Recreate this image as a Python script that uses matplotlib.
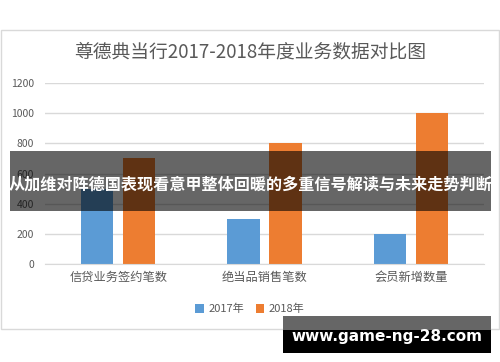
import matplotlib

matplotlib.use("Agg")
import matplotlib.pyplot as plt
import numpy as np
from matplotlib.patches import Rectangle

plt.rcParams["font.family"] = ["Noto Sans CJK SC", "DejaVu Sans"]

W, H = 500, 362

TITLE = "尊德典当行2017-2018年度业务数据对比图"
CATEGORIES = ["信贷业务签约笔数", "绝当品销售笔数", "会员新增数量"]
SERIES = ["2017年", "2018年"]
VALUES_2017 = [500, 300, 200]
VALUES_2018 = [700, 800, 1000]
YTICKS = [0, 200, 400, 600, 800, 1000, 1200]
BANNER = "从加维对阵德国表现看意甲整体回暖的多重信号解读与未来走势判断"
WATERMARK = "www.game-ng-28.com"

BLUE, ORANGE = "#5b9bd5", "#ed7d31"
GRID = "#d9d9d9"
TXT = "#595959"


def box(x0, y0, x1, y1):
    """pixel box (top-left origin) -> figure fraction rect args"""
    return (x0 / W, 1 - y1 / H), (x1 - x0) / W, (y1 - y0) / H


fig = plt.figure(figsize=(W / 100, H / 100), dpi=100)

# chart frame
xy, w, h = box(1, 30, 499, 329)
fig.add_artist(Rectangle(xy, w, h, transform=fig.transFigure, fill=False,
                         ec=GRID, lw=1, zorder=0))
fig.text(0.5, 1 - 52 / H, TITLE, ha="center", va="center", fontsize=13.5, color=TXT)

ax = fig.add_axes([45 / W, 1 - 264 / H, 439 / W, 181 / H])
x = np.arange(len(CATEGORIES))
bw, off = 0.22, 0.143
ax.bar(x - off, VALUES_2017, bw, color=BLUE, label=SERIES[0], zorder=2)
ax.bar(x + off, VALUES_2018, bw, color=ORANGE, label=SERIES[1], zorder=2)
ax.set_xlim(-0.5, 2.5)
ax.set_ylim(0, 1200)
ax.set_yticks(YTICKS)
ax.set_xticks(x, CATEGORIES)
ax.grid(axis="y", color=GRID, lw=1, zorder=0)
for s in ["top", "right", "left"]:
    ax.spines[s].set_visible(False)
ax.spines["bottom"].set_color(GRID)
ax.tick_params(axis="y", length=0, labelsize=7.5, labelcolor=TXT, pad=8)
ax.tick_params(axis="x", length=0, labelsize=8.8, labelcolor=TXT, pad=5)

ax.legend(loc="center", bbox_to_anchor=(0.5, 1 - 309 / H), bbox_transform=fig.transFigure,
          ncol=2, frameon=False, fontsize=8, labelcolor=TXT, handlelength=0.8,
          handleheight=0.8, handletextpad=0.4, columnspacing=1.0)

# overlay banner
xy, w, h = box(10, 151, 491, 211)
fig.add_artist(Rectangle(xy, w, h, transform=fig.transFigure, fc="black",
                         alpha=0.6, lw=0, zorder=5))
fig.text(250.5 / W, 1 - 185 / H, BANNER, ha="center", va="center", fontsize=11.6,
         fontweight="bold", color="white", zorder=6)

# watermark
xy, w, h = box(283, 316, 491, 330)
fig.add_artist(Rectangle(xy, w, h, transform=fig.transFigure, fc="#666666", lw=0, zorder=5))
xy, w, h = box(283, 330, 491, 353)
fig.add_artist(Rectangle(xy, w, h, transform=fig.transFigure, fc="black", lw=0, zorder=5))
fig.text(387 / W, 1 - 337 / H, WATERMARK, ha="center", va="center", fontsize=11,
         fontweight="bold", color="white", family="DejaVu Sans", zorder=6)

fig.savefig("out.png", dpi=100)
